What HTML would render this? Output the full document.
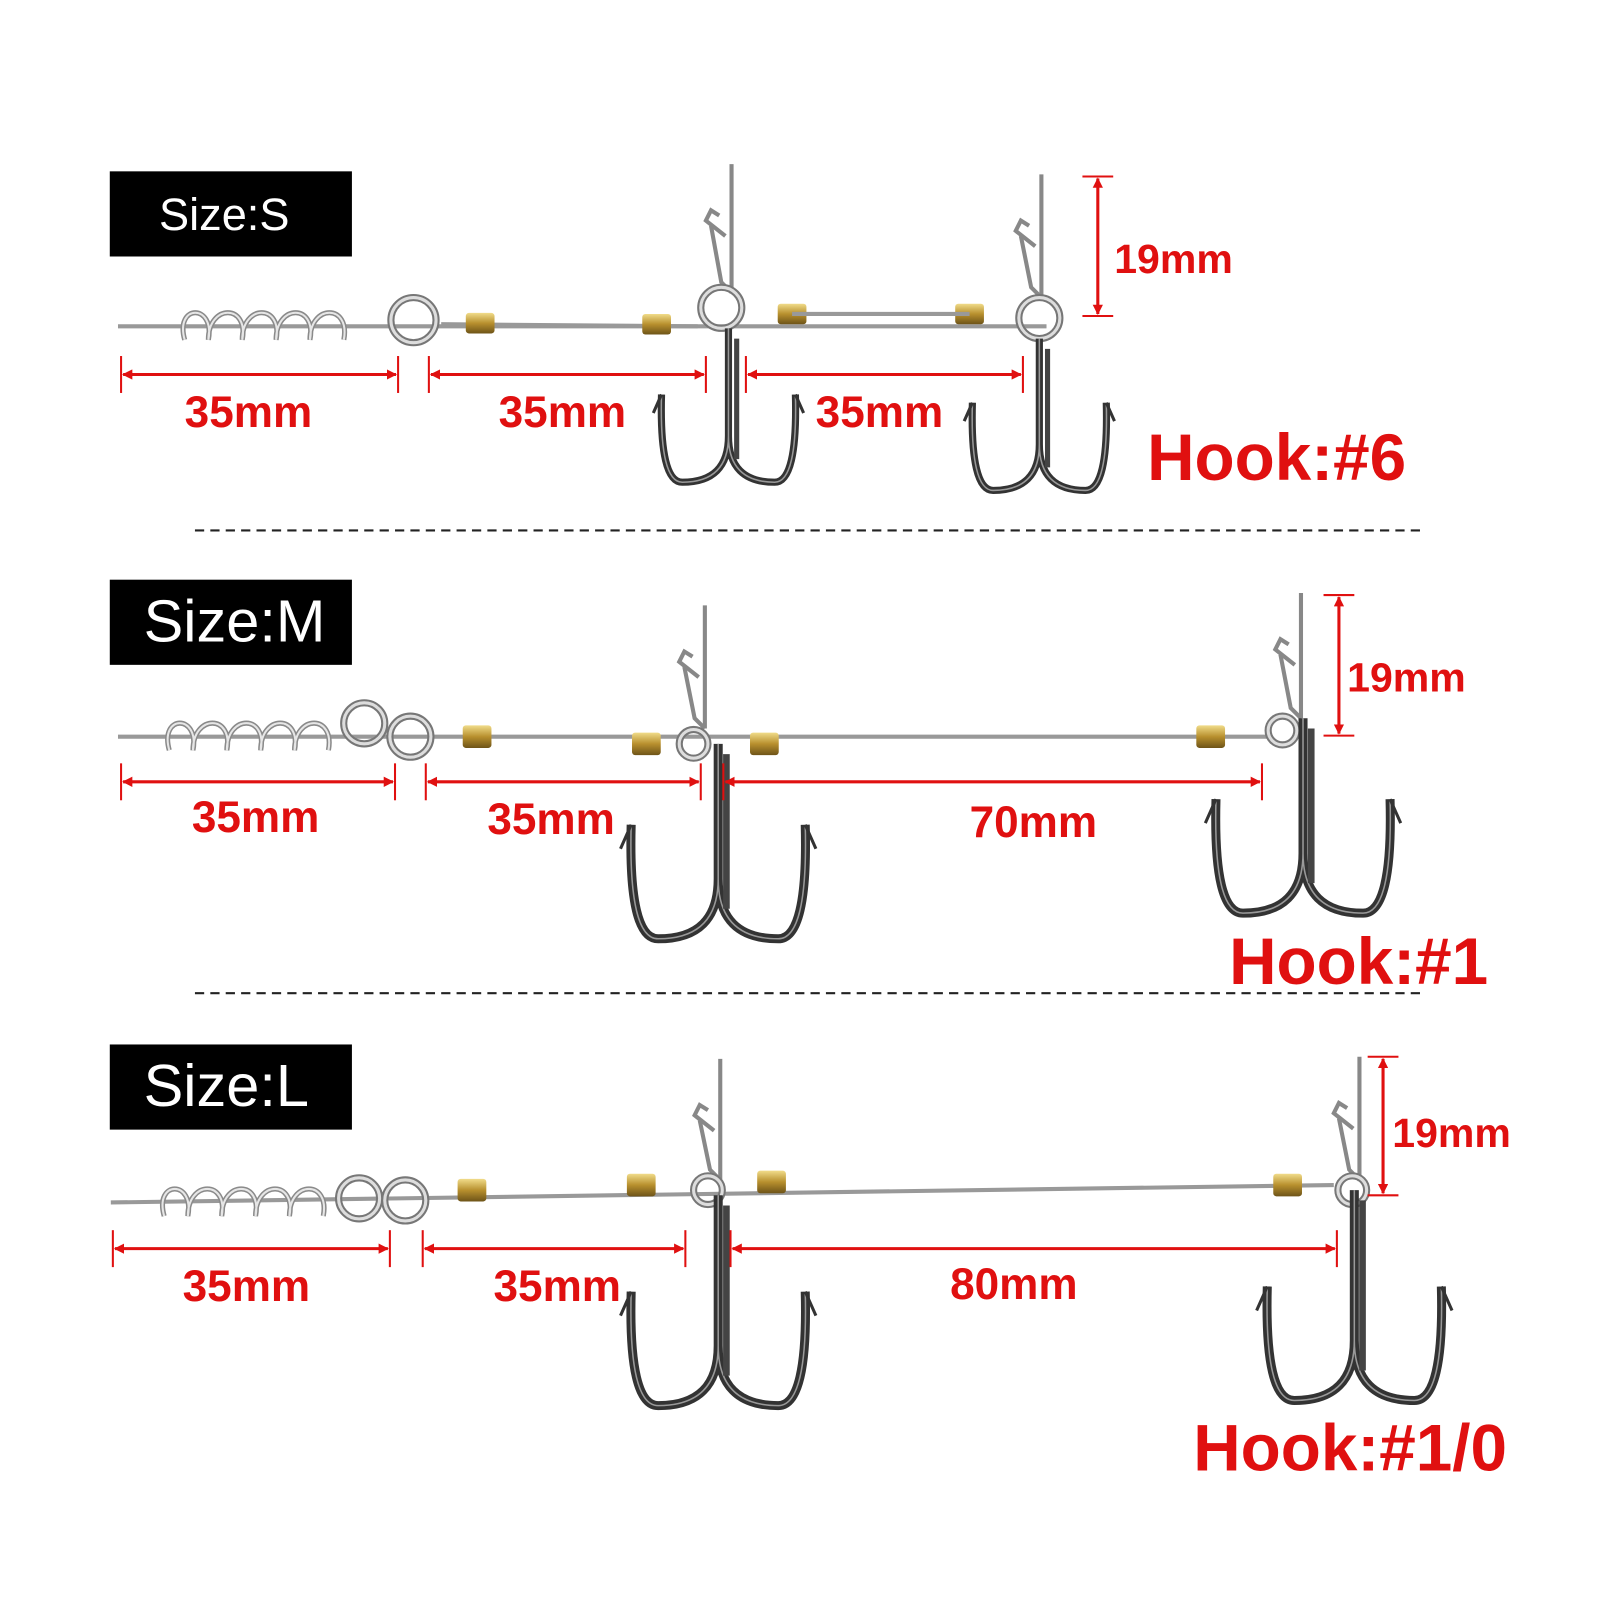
<!DOCTYPE html>
<html><head><meta charset="utf-8"><style>
html,body{margin:0;padding:0;background:#fff;width:1600px;height:1600px;overflow:hidden}
svg{display:block}
.lbl{font-family:"Liberation Sans",sans-serif;font-weight:bold;fill:#e01010}
.sz{font-family:"Liberation Sans",sans-serif;fill:#fff}
</style></head><body>
<svg id="s" width="1600" height="1600" viewBox="0 0 1600 1600" xmlns="http://www.w3.org/2000/svg">
<defs>
<marker id="ar" markerWidth="10" markerHeight="10" refX="9" refY="5" orient="auto-start-reverse" markerUnits="userSpaceOnUse">
<path d="M0,0 L10,5 L0,10 z" fill="#e01010"/></marker>
<linearGradient id="br" x1="0" y1="0" x2="0" y2="1"><stop offset="0" stop-color="#f1dc8a"/><stop offset=".5" stop-color="#b8902e"/><stop offset="1" stop-color="#6e5418"/></linearGradient>
</defs>
<g transform="scale(1.026)">
<rect x="107" y="167" width="236" height="83" fill="#000"/><text class="sz" x="155" y="224" font-size="44">Size:S</text>
<rect x="107" y="565" width="236" height="83" fill="#000"/><text class="sz" x="140" y="625" font-size="58">Size:M</text>
<rect x="107" y="1018" width="236" height="83" fill="#000"/><text class="sz" x="140" y="1078" font-size="58">Size:L</text>
<line x1="190" y1="517" x2="1390" y2="517" stroke="#222" stroke-width="2" stroke-dasharray="9,6"/>
<line x1="190" y1="968" x2="1390" y2="968" stroke="#222" stroke-width="2" stroke-dasharray="9,6"/>
<g id="g"></g>
<text class="lbl" x="180" y="416" font-size="43">35mm</text>
<text class="lbl" x="486" y="416" font-size="43">35mm</text>
<text class="lbl" x="795" y="416" font-size="43">35mm</text>
<text class="lbl" x="1086" y="266" font-size="40">19mm</text>
<text class="lbl" x="1118" y="468" font-size="64">Hook:#6</text>
<text class="lbl" x="187" y="811" font-size="43">35mm</text>
<text class="lbl" x="475" y="813" font-size="43">35mm</text>
<text class="lbl" x="945" y="816" font-size="43">70mm</text>
<text class="lbl" x="1313" y="674" font-size="40">19mm</text>
<text class="lbl" x="1198" y="959" font-size="64">Hook:#1</text>
<text class="lbl" x="178" y="1268" font-size="43">35mm</text>
<text class="lbl" x="481" y="1268" font-size="43">35mm</text>
<text class="lbl" x="926" y="1266" font-size="43">80mm</text>
<text class="lbl" x="1357" y="1118" font-size="40">19mm</text>
<text class="lbl" x="1163" y="1433" font-size="64">Hook:#1/0</text>
</g>
</svg>
<script>
var g=document.getElementById('g'),NS="http://www.w3.org/2000/svg";
function el(t,a){var e=document.createElementNS(NS,t);for(var k in a)e.setAttribute(k,a[k]);g.appendChild(e);return e;}
function line(x1,y1,x2,y2,c,w){el('line',{x1:x1,y1:y1,x2:x2,y2:y2,stroke:c,'stroke-width':w});}
function dimH(x1,x2,y){line(x1,y-18,x1,y+18,'#e01010',2);line(x2,y-18,x2,y+18,'#e01010',2);
 el('line',{x1:x1+2,y1:y,x2:x2-2,y2:y,stroke:'#e01010','stroke-width':3,'marker-start':'url(#ar)','marker-end':'url(#ar)'});}
function dimV(x,y1,y2){line(x-15,y1,x+15,y1,'#e01010',2);line(x-15,y2,x+15,y2,'#e01010',2);
 el('line',{x1:x,y1:y1+2,x2:x,y2:y2-2,stroke:'#e01010','stroke-width':3,'marker-start':'url(#ar)','marker-end':'url(#ar)'});}
function coil(x1,x2,y,n,h){var d="M"+x1+","+(y+h*0.6);var w=(x2-x1)/n;
 for(var i=0;i<n;i++){var a=x1+i*w;d+=" C"+(a-w*0.3)+","+(y-h)+" "+(a+w*0.9)+","+(y-h)+" "+(a+w*0.7)+","+(y+h*0.6);}
 el('path',{d:d,fill:'none',stroke:'#8a8a8a','stroke-width':5});
 el('path',{d:d,fill:'none',stroke:'#e6e6e6','stroke-width':2});}
function ring(x,y,r){el('circle',{cx:x,cy:y,r:r,fill:'none',stroke:'#777','stroke-width':7});el('circle',{cx:x,cy:y,r:r,fill:'none',stroke:'#ddd','stroke-width':3});}
function sleeve(x,y,w,h){el('rect',{x:x-w/2,y:y-h/2,width:w,height:h,rx:3,fill:'url(#br)'});}
function pin(x,y1,y2){line(x,y1,x,y2,'#888',4);
 el('path',{d:"M"+(x-6)+","+(y1+70)+" L"+(x-25)+","+(y1+55)+" L"+(x-20)+","+(y1+45)+" L"+(x-12)+","+(y1+50),fill:'none',stroke:'#888','stroke-width':4});
 el('path',{d:"M"+(x-20)+","+(y1+60)+" L"+(x-10)+","+(y2-10)+" L"+(x)+","+(y2),fill:'none',stroke:'#888','stroke-width':4});}
function hook(x,yt,yb,s){
 var r=45*s,d="";
 d+="M"+x+","+yt+" V"+(yb-r)+" Q"+x+","+yb+" "+(x-r)+","+yb+" Q"+(x-r*1.5)+","+yb+" "+(x-r*1.45)+","+(yb-r*1.9);
 d+=" M"+x+","+(yb-r)+" Q"+x+","+yb+" "+(x+r)+","+yb+" Q"+(x+r*1.5)+","+yb+" "+(x+r*1.45)+","+(yb-r*1.9);
 el('path',{d:d,fill:'none',stroke:'#333','stroke-width':6*s+1});
 el('path',{d:d,fill:'none',stroke:'#999','stroke-width':1.5});
 line(x+8,yt+10,x+8,yb-r*0.5,'#444',5*s);
 el('path',{d:"M"+(x-r*1.45)+","+(yb-r*1.9)+" l"+(-8*s)+","+(18*s)+" M"+(x+r*1.45)+","+(yb-r*1.9)+" l"+(8*s)+","+(18*s),stroke:'#333','stroke-width':3,fill:'none'});}
line(115,318,1020,318,'#999',4);
line(430,316,680,318,'#999',4);
coil(180,345,318,5,22);ring(403,312,22);
sleeve(468,315,28,20);sleeve(640,316,28,20);sleeve(772,306,28,20);sleeve(945,306,28,20);
line(772,306,945,306,'#999',4);
pin(713,160,285);pin(1015,170,290);ring(703,300,20);ring(1013,310,20);
hook(710,320,470,1);hook(1013,330,478,1);
dimH(118,388,365);dimH(418,688,365);dimH(727,997,365);dimV(1070,172,308);
line(115,718,1240,718,'#999',4);
coil(165,330,718,5,22);ring(355,705,20);ring(400,718,20);
sleeve(465,718,28,22);sleeve(630,725,28,22);sleeve(745,725,28,22);sleeve(1180,718,28,22);
pin(687,590,710);pin(1268,578,700);ring(676,725,14);ring(1250,712,14);
hook(700,725,915,1.3);hook(1270,700,890,1.3);
dimH(118,385,762);dimH(415,683,762);dimH(705,1230,762);dimV(1305,580,717);
line(108,1172,1300,1155,'#999',4);
coil(160,325,1172,5,22);ring(350,1168,20);ring(395,1170,20);
sleeve(460,1160,28,22);sleeve(625,1155,28,22);sleeve(752,1152,28,22);sleeve(1255,1155,28,22);
pin(702,1032,1150);pin(1325,1030,1150);ring(690,1160,14);ring(1318,1160,14);
hook(700,1165,1370,1.3);hook(1320,1160,1365,1.3);
dimH(110,380,1217);dimH(412,668,1217);dimH(712,1303,1217);dimV(1348,1030,1165);
</script>
</body></html>
